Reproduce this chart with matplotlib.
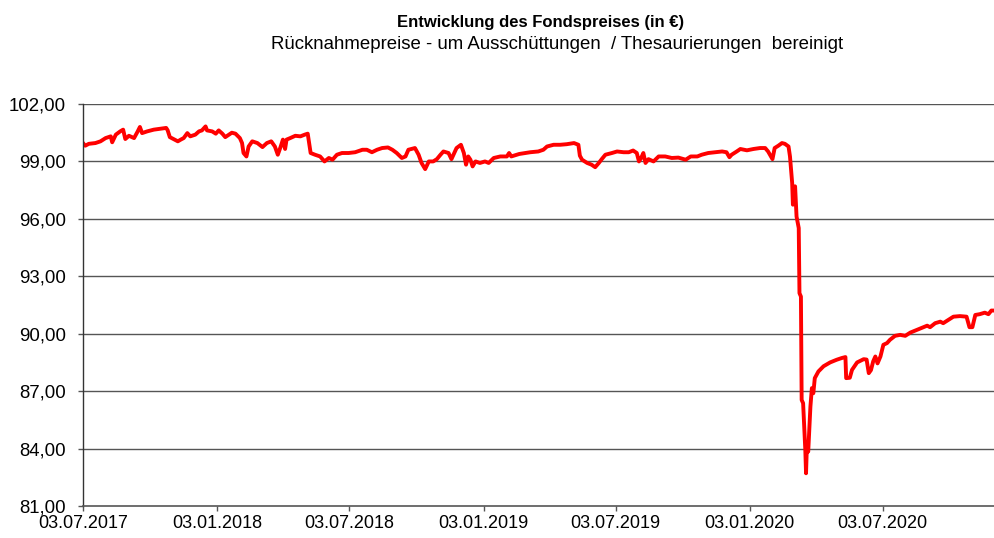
"""
Fondspreis-Entwicklung, Ruecknahmepreise bereinigt
"""

import matplotlib
matplotlib.use("Agg")
import matplotlib.pyplot as plt
import matplotlib.dates as mdates
import numpy as np
import pandas as pd


# days since 03.07.2017 and the fund price
start = pd.Timestamp("2017-07-03")

days = [0, 3, 8, 17, 24, 31, 38, 40, 45, 51, 55, 58, 63, 70, 75, 78, 81, 88, 97,
        106, 114, 116, 119, 124, 130, 134, 138, 143, 147, 154, 159, 163, 168, 170,
        177, 182, 186, 191, 195, 200, 204, 209, 215, 218, 220, 224, 227,
        232, 239, 246, 252, 258, 263, 267, 271, 274, 277, 279, 284, 291, 298, 304,
        308, 310, 312, 318, 325, 331, 337, 342, 348, 355, 364, 373, 383, 389, 396,
        403, 410, 418, 424, 430, 437, 442, 446,
        455, 460, 464, 469, 474, 480, 485, 490, 494, 501, 505, 512, 518, 522, 525,
        528, 531, 534, 538, 544, 551, 556, 563, 572, 581, 584, 587, 598, 613, 624,
        631, 636, 645, 654, 663, 673, 677,
        679, 681, 684, 691, 697, 702, 707, 711, 716, 725, 732, 741, 748, 754, 759,
        762, 765, 768, 771, 775, 782, 789, 798, 807, 816, 826, 833, 842, 848, 857,
        866, 876, 882, 886, 889, 896, 901,
        910, 919, 928, 935, 939, 945, 948, 953, 958, 962, 967, 969, 972, 973, 976,
        978, 981, 982, 984, 985, 987, 990, 991, 992, 994, 997, 999, 1001, 1003,
        1008, 1015, 1024, 1033, 1040, 1045, 1046, 1051, 1054, 1061, 1070, 1074,
        1077, 1080, 1083, 1086, 1089, 1093, 1097, 1102, 1106, 1113, 1120, 1127,
        1134, 1143, 1152, 1157, 1161, 1168, 1175, 1179, 1186, 1193, 1202, 1211,
        1215, 1219, 1223, 1229, 1236, 1241, 1245, 1250]

price = [99.96, 99.82, 99.92, 99.96, 100.05, 100.22, 100.31, 100.0, 100.4, 100.57,
         100.66, 100.17, 100.34, 100.22, 100.57, 100.8, 100.48, 100.57, 100.66,
         100.71, 100.75, 100.63, 100.27, 100.17, 100.05, 100.14, 100.22, 100.48,
         100.31, 100.4, 100.57, 100.62, 100.83, 100.62, 100.57, 100.45, 100.62,
         100.45, 100.27, 100.4, 100.5, 100.45, 100.22, 99.96, 99.44, 99.26, 99.78,
         100.05, 99.96, 99.75, 99.96, 100.05, 99.78, 99.35, 99.78, 100.14, 99.65,
         100.14, 100.22, 100.34, 100.31, 100.4, 100.45, 99.96, 99.44, 99.35, 99.26,
         99.0, 99.18, 99.09, 99.35, 99.44, 99.44, 99.48, 99.61, 99.61, 99.48, 99.61,
         99.7, 99.73, 99.61, 99.44, 99.18, 99.26, 99.61,
         99.7, 99.35, 98.92, 98.6, 99.0, 99.0, 99.12, 99.35, 99.52, 99.44, 99.12,
         99.7, 99.87, 99.44, 98.83, 99.26, 99.09, 98.74, 99.0, 98.92, 99.0, 98.92,
         99.18, 99.26, 99.26, 99.44, 99.26, 99.39, 99.48, 99.52, 99.61, 99.78,
         99.87, 99.87, 99.9, 99.96, 99.9,
         99.87, 99.3, 99.09, 98.92, 98.83, 98.7, 98.92, 99.12, 99.35, 99.44, 99.52,
         99.48, 99.48, 99.57, 99.44, 99.0, 99.18, 99.44, 98.92, 99.12, 99.0, 99.26,
         99.26, 99.18, 99.2, 99.09, 99.26, 99.26, 99.35, 99.44, 99.48, 99.52, 99.48,
         99.22, 99.35, 99.52, 99.65,
         99.58, 99.65, 99.7, 99.7, 99.52, 99.12, 99.7, 99.82, 99.96, 99.92, 99.78,
         99.26, 97.87, 96.74, 97.7, 96.12, 95.52, 92.12, 91.94, 86.54, 86.37, 83.93,
         82.71, 83.93, 83.84, 86.19, 87.16, 86.89, 87.68, 88.03, 88.3, 88.5, 88.64,
         88.73, 88.78, 87.68, 87.7, 88.11, 88.5, 88.67, 88.65, 87.94, 88.1, 88.55,
         88.81, 88.45, 88.81, 89.42, 89.51, 89.68, 89.89, 89.94, 89.89, 90.06,
         90.2, 90.34, 90.42, 90.34, 90.55, 90.63, 90.55, 90.72, 90.89, 90.92, 90.89,
         90.34, 90.34, 90.98, 91.02, 91.1, 91.02, 91.21, 91.21]

tick_dates = ["2017-07-03", "2018-01-03", "2018-07-03", "2019-01-03",
              "2019-07-03", "2020-01-03", "2020-07-03"]
y_ticks = [81, 84, 87, 90, 93, 96, 99, 102]

title = "Entwicklung des Fondspreises (in €)"
subtitle = "Rücknahmepreise - um Ausschüttungen  / Thesaurierungen  bereinigt"


plt.rcParams["font.family"] = ["Liberation Sans", "DejaVu Sans"]

dates = start + pd.to_timedelta(days, unit="D")

fig = plt.figure(figsize=(9.95, 5.38), dpi=100)
ax = fig.add_axes([83 / 995, 32 / 538, 912 / 995, 402 / 538])

ax.plot(dates, price, color="#ff0000", linewidth=2.8, solid_joinstyle="round")

ax.set_ylim(81, 102)
ax.set_xlim(start, start + pd.Timedelta(days=1250))

# horizontal grid
for y in y_ticks[1:]:
    ax.axhline(y, color="#555555", linewidth=1, zorder=0)

ax.set_yticks(y_ticks)
ax.set_yticklabels([("%.2f" % v).replace(".", ",") for v in y_ticks])
ax.set_xticks(pd.to_datetime(tick_dates))
ax.xaxis.set_major_formatter(mdates.DateFormatter("%d.%m.%Y"))

ax.tick_params(axis="y", labelsize=13.4, length=3.6, width=1, color="#555555", pad=8.6)
ax.tick_params(axis="x", labelsize=13, length=3.6, width=1, color="#555555", pad=3)

for s in ["top", "right"]:
    ax.spines[s].set_visible(False)
ax.spines["left"].set_color("#333333")
ax.spines["bottom"].set_color("#555555")
ax.spines["left"].set_linewidth(1)
ax.spines["bottom"].set_linewidth(1.2)

fig.text(0.543, 0.958, title, ha="center", va="center", fontsize=12, fontweight="bold")
fig.text(0.56, 0.917, subtitle, ha="center", va="center", fontsize=13.4)

fig.savefig("out.png", dpi=100)
